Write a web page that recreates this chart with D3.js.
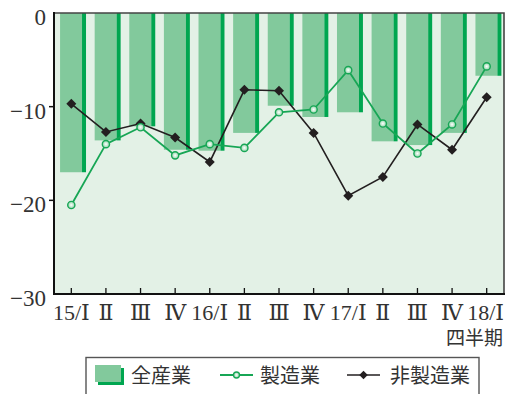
<!DOCTYPE html>
<html lang="ja">
<head>
<meta charset="utf-8">
<script src="https://cdn.jsdelivr.net/npm/d3@7"></script>
<style>
  html, body { margin: 0; padding: 0; background: #fff; }
  svg { display: block; }
  .num { font-family: "Liberation Serif", "DejaVu Serif", serif; fill: #333; }
  .cjk { font-family: "Noto Sans CJK JP", sans-serif; fill: #333; }
</style>
</head>
<body>
<svg id="chart" width="508" height="394"></svg>
<script>
// 四半期ラベル
const categories = ["15/Ⅰ", "Ⅱ", "Ⅲ", "Ⅳ", "16/Ⅰ", "Ⅱ", "Ⅲ", "Ⅳ", "17/Ⅰ", "Ⅱ", "Ⅲ", "Ⅳ", "18/Ⅰ"];
// 全産業（棒）
const allIndustries = [-17.0, -13.6, -12.1, -14.6, -14.7, -12.8, -9.9, -11.1, -10.6, -13.7, -14.1, -12.8, -6.7];
// 製造業（折れ線）
const manufacturing = [-20.5, -14.0, -12.2, -15.2, -14.0, -14.4, -10.6, -10.3, -6.1, -11.8, -15.0, -11.9, -5.7];
// 非製造業（折れ線）
const nonManufacturing = [-9.7, -12.7, -11.8, -13.3, -15.9, -8.2, -8.3, -12.8, -19.5, -17.5, -11.9, -14.6, -9.0];
// 縦軸目盛
const yTicks = [0, -10, -20, -30];

const svg = d3.select("#chart");
const plot = { left: 54, right: 504, top: 13, bottom: 294 };

const x = d3.scaleBand().domain(d3.range(categories.length))
  .range([plot.left, plot.right]).padding(0);
const y = d3.scaleLinear().domain([-30, 0]).range([plot.bottom, plot.top]);
const bw = x.bandwidth();

// プロット領域の背景
svg.append("rect")
  .attr("x", plot.left).attr("y", plot.top)
  .attr("width", plot.right - plot.left).attr("height", plot.bottom - plot.top)
  .attr("fill", "#e3f1e6");

// 棒：淡色の本体と右側の濃色帯
const bars = svg.append("g");
allIndustries.forEach((v, i) => {
  const x0 = x(i) + bw * 0.175;
  const w = bw * 0.75;
  bars.append("rect")
    .attr("x", x0).attr("y", y(0))
    .attr("width", w - 4).attr("height", y(v) - y(0))
    .attr("fill", "#82c99c");
  bars.append("rect")
    .attr("x", x0 + w - 4).attr("y", y(0))
    .attr("width", 4).attr("height", y(v) - y(0))
    .attr("fill", "#00a650");
});

// 上端と右端の枠線
svg.append("path")
  .attr("d", `M${plot.left},${plot.top}H${plot.right}V${plot.bottom}`)
  .attr("fill", "none").attr("stroke", "#444").attr("stroke-width", 1.6);

const cx = i => x(i) + bw / 2;

// 非製造業
const blackLine = d3.line().x((d, i) => cx(i)).y(d => y(d));
svg.append("path").datum(nonManufacturing)
  .attr("d", blackLine)
  .attr("fill", "none").attr("stroke", "#231f20").attr("stroke-width", 1.6);
svg.append("g").selectAll("path").data(nonManufacturing).join("path")
  .attr("d", d3.symbol(d3.symbolSquare, 50))
  .attr("transform", (d, i) => `translate(${cx(i)},${y(d)}) rotate(45)`)
  .attr("fill", "#231f20");

// 製造業
const defs = svg.append("defs");
const grad = defs.append("radialGradient").attr("id", "dotFill");
grad.append("stop").attr("offset", "0%").attr("stop-color", "#ffffff");
grad.append("stop").attr("offset", "100%").attr("stop-color", "#8fd3a8");

svg.append("path").datum(manufacturing)
  .attr("d", d3.line().x((d, i) => cx(i)).y(d => y(d)))
  .attr("fill", "none").attr("stroke", "#17a655").attr("stroke-width", 1.8);
svg.append("g").selectAll("circle").data(manufacturing).join("circle")
  .attr("cx", (d, i) => cx(i)).attr("cy", d => y(d)).attr("r", 3.6)
  .attr("fill", "url(#dotFill)").attr("stroke", "#17a655").attr("stroke-width", 1.4);

// 軸線
svg.append("path")
  .attr("d", `M${plot.left},${plot.top - 1}V${plot.bottom}H${plot.right + 1}`)
  .attr("fill", "none").attr("stroke", "#111").attr("stroke-width", 2);

// 縦軸目盛と数値
const yg = svg.append("g");
yTicks.forEach(t => {
  if (t !== 0 && t !== -30) {
    yg.append("line")
      .attr("x1", plot.left - 5).attr("x2", plot.left)
      .attr("y1", y(t)).attr("y2", y(t))
      .attr("stroke", "#111").attr("stroke-width", 1.5);
  }
  yg.append("text").attr("class", "num")
    .attr("x", 46).attr("y", y(t) + 12)
    .attr("text-anchor", "end").attr("font-size", 23)
    .text(t === 0 ? "0" : "\u2212" + Math.abs(t));
});

// 横軸目盛と四半期ラベル
const xg = svg.append("g");
const labels = [];
categories.forEach((c, i) => {
  xg.append("line")
    .attr("x1", cx(i)).attr("x2", cx(i))
    .attr("y1", plot.bottom).attr("y2", plot.bottom - 6)
    .attr("stroke", "#111").attr("stroke-width", 1.3);
  const t = xg.append("text").attr("class", "num")
    .attr("x", cx(i)).attr("y", 320)
    .attr("text-anchor", "middle").attr("font-size", 22)
    .text(c);
  const len = t.node().getComputedTextLength();
  if (cx(i) + len / 2 > 504) t.attr("text-anchor", "end").attr("x", 504);
  labels.push(t);
});
// 右端で詰まったラベルは隣を左へ寄せる
for (let i = labels.length - 1; i > 0; i--) {
  const cur = labels[i].node().getBBox();
  const prev = labels[i - 1].node().getBBox();
  const over = prev.x + prev.width + 1 - cur.x;
  if (over > 0) labels[i - 1].attr("x", +labels[i - 1].attr("x") - over);
}
svg.append("text").attr("class", "cjk")
  .attr("x", 503).attr("y", 345).attr("text-anchor", "end")
  .attr("font-size", 19).text("四半期");

// 凡例
const lg = svg.append("g");
lg.append("rect")
  .attr("x", 86).attr("y", 357.5).attr("width", 393).attr("height", 45)
  .attr("fill", "#fff").attr("stroke", "#555").attr("stroke-width", 1.4);
lg.append("rect").attr("x", 98).attr("y", 368).attr("width", 26).attr("height", 17).attr("fill", "#00a650");
lg.append("rect").attr("x", 95).attr("y", 365).attr("width", 26).attr("height", 17).attr("fill", "#82c99c");
lg.append("text").attr("class", "cjk").attr("x", 131).attr("y", 383)
  .attr("font-size", 20).text("全産業");

lg.append("line").attr("x1", 220).attr("x2", 253).attr("y1", 375).attr("y2", 375)
  .attr("stroke", "#17a655").attr("stroke-width", 1.8);
lg.append("circle").attr("cx", 236.5).attr("cy", 375).attr("r", 3)
  .attr("fill", "url(#dotFill)").attr("stroke", "#17a655").attr("stroke-width", 1.3);
lg.append("text").attr("class", "cjk").attr("x", 260).attr("y", 383)
  .attr("font-size", 20).text("製造業");

lg.append("line").attr("x1", 347).attr("x2", 380).attr("y1", 375).attr("y2", 375)
  .attr("stroke", "#231f20").attr("stroke-width", 1.6);
lg.append("path").attr("d", d3.symbol(d3.symbolSquare, 36))
  .attr("transform", "translate(363.5,375) rotate(45)").attr("fill", "#231f20");
lg.append("text").attr("class", "cjk").attr("x", 390).attr("y", 383)
  .attr("font-size", 20).text("非製造業");
</script>
</body>
</html>
